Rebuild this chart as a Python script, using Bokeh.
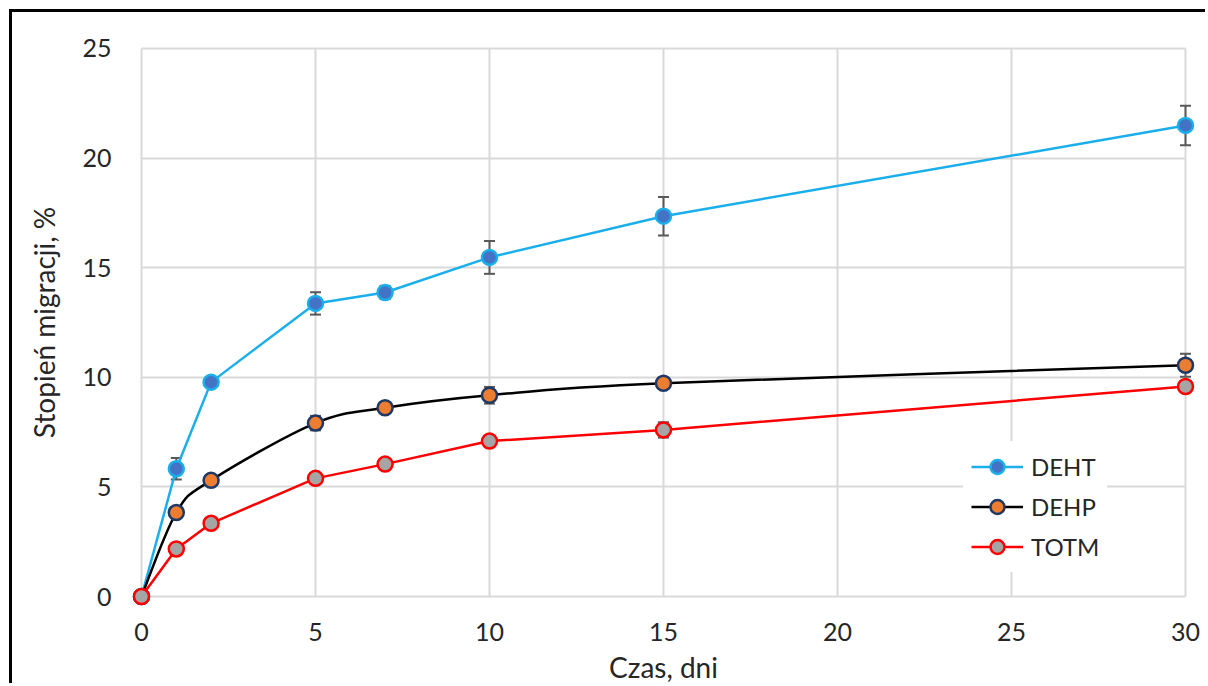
from bokeh.plotting import figure
from bokeh.models import Whisker, TeeHead, ColumnDataSource, FixedTicker, Legend, LegendItem, Range1d
from bokeh.embed import file_html
from bokeh.resources import INLINE

# ---- data ----
days = [0, 1, 2, 5, 7, 10, 15, 30]
deht = [0, 5.83, 9.78, 13.37, 13.87, 15.47, 17.35, 21.49]
deht_err = [0, 0.49, 0.15, 0.51, 0.3, 0.75, 0.88, 0.9]
dehp = [0, 3.83, 5.30, 7.91, 8.61, 9.18, 9.73, 10.55]
dehp_err = [0, 0.2, 0.15, 0.33, 0.15, 0.38, 0.25, 0.52]
totm = [0, 2.17, 3.34, 5.39, 6.04, 7.09, 7.60, 9.58]
totm_err = [0, 0.15, 0.15, 0.2, 0.2, 0.2, 0.35, 0.2]
series_names = ["DEHT", "DEHP", "TOTM"]
x_ticks = [0, 5, 10, 15, 20, 25, 30]
y_ticks = [0, 5, 10, 15, 20, 25]

FONT = "Lato"
TXT = "#262626"

# small padding so markers on the axes are not clipped
xpad = 10 / 34.8
ypad = 10 / 21.96
p = figure(width=1196, height=674, output_backend="svg", toolbar_location=None,
           x_range=Range1d(x_ticks[0] - xpad, x_ticks[-1] + xpad),
           y_range=Range1d(y_ticks[0] - ypad, y_ticks[-1] + ypad),
           min_border_left=119, min_border_right=13, min_border_top=26, min_border_bottom=79)
p.styles = {"margin-left": "9px", "margin-top": "9px",
            "border-left": "3px solid black", "border-top": "3px solid black"}
p.background_fill_color = "white"
p.border_fill_color = "white"
p.outline_line_color = None

p.xaxis.ticker = FixedTicker(ticks=x_ticks)
p.yaxis.ticker = FixedTicker(ticks=y_ticks)
p.xgrid.ticker = FixedTicker(ticks=x_ticks)
p.ygrid.ticker = FixedTicker(ticks=y_ticks)
p.xgrid.cross_bounds = (y_ticks[0], y_ticks[-1])
p.ygrid.cross_bounds = (x_ticks[0], x_ticks[-1])
for g in (p.xgrid, p.ygrid):
    g.grid_line_color = "#d9d9d9"
    g.grid_line_width = 2

for ax in (p.xaxis, p.yaxis):
    ax.axis_line_color = None
    ax.major_tick_line_color = None
    ax.minor_tick_line_color = None
    ax.major_label_text_font = FONT
    ax.major_label_text_font_size = "25px"
    ax.major_label_text_color = TXT
    ax.axis_label_text_font = FONT
    ax.axis_label_text_font_size = "28px"
    ax.axis_label_text_font_style = "normal"
    ax.axis_label_text_color = TXT

p.xaxis.axis_label = "Czas, dni"
p.yaxis.axis_label = "Stopień migracji, %"
p.xaxis.major_label_standoff = 10
p.xaxis.axis_label_standoff = 6
p.yaxis.major_label_standoff = 14
p.yaxis.axis_label_standoff = 18


def add_err(vals, errs):
    src = ColumnDataSource(dict(x=days, lo=[v - e for v, e in zip(vals, errs)],
                                hi=[v + e for v, e in zip(vals, errs)]))
    w = Whisker(base="x", lower="lo", upper="hi", source=src,
                line_color="#595959", line_width=2,
                upper_head=TeeHead(size=11, line_color="#595959", line_width=2),
                lower_head=TeeHead(size=11, line_color="#595959", line_width=2))
    p.add_layout(w)


def smooth_segments(xs, ys):
    n = len(xs)
    out = dict(x0=[], y0=[], x1=[], y1=[], cx0=[], cy0=[], cx1=[], cy1=[])
    for i in range(n - 1):
        i0 = max(i - 1, 0)
        i3 = min(i + 2, n - 1)
        out["x0"].append(xs[i]); out["y0"].append(ys[i])
        out["x1"].append(xs[i + 1]); out["y1"].append(ys[i + 1])
        out["cx0"].append(xs[i] + (xs[i + 1] - xs[i0]) / 6)
        out["cy0"].append(ys[i] + (ys[i + 1] - ys[i0]) / 6)
        out["cx1"].append(xs[i + 1] - (xs[i3] - xs[i]) / 6)
        out["cy1"].append(ys[i + 1] - (ys[i3] - ys[i]) / 6)
    return out

add_err(deht, deht_err)
add_err(dehp, dehp_err)
add_err(totm, totm_err)

l1 = p.line(days, deht, line_color="#1AAFEB", line_width=2.5)
m1 = p.scatter(days, deht, size=15, fill_color="#4472C4", line_color="#1AAFEB", line_width=2.5)

bz = smooth_segments(days, dehp)
l2 = p.bezier(x0="x0", y0="y0", x1="x1", y1="y1", cx0="cx0", cy0="cy0", cx1="cx1", cy1="cy1",
              source=ColumnDataSource(bz), line_color="black", line_width=2.5)
m2 = p.scatter(days, dehp, size=15, fill_color="#ED7D31", line_color="#1F3864", line_width=2.5)

l3 = p.line(days, totm, line_color="#FF0000", line_width=2.5)
m3 = p.scatter(days, totm, size=15, fill_color="#A5A5A5", line_color="#FF0000", line_width=2.5)

legend = Legend(items=[LegendItem(label=series_names[0], renderers=[l1, m1]),
                       LegendItem(label=series_names[1], renderers=[l2, m2]),
                       LegendItem(label=series_names[2], renderers=[l3, m3])],
                location=(832, 34))
legend.label_text_font = FONT
legend.label_text_font_size = "24px"
legend.label_text_color = TXT
legend.glyph_width = 52
legend.glyph_height = 35
legend.label_height = 35
legend.label_standoff = 8
legend.spacing = 5
legend.padding = 8
legend.margin = 0
legend.border_line_alpha = 0
legend.background_fill_color = "white"
legend.background_fill_alpha = 1
p.add_layout(legend)

open("out.html", "w").write(file_html(p, INLINE))
